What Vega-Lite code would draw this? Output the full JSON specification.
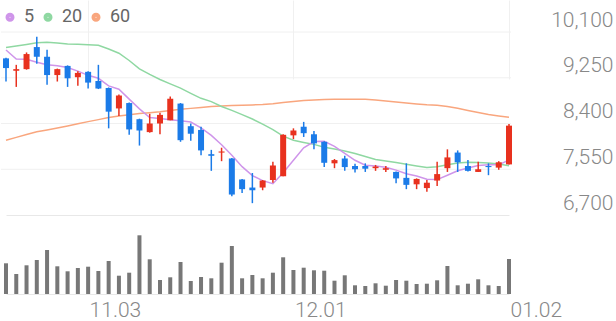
{
  "$schema": "https://vega.github.io/schema/vega-lite/v6.json",
  "width": 616,
  "height": 294,
  "padding": 0,
  "autosize": {"type": "pad"},
  "background": "white",
  "config": {"view": {"stroke": null}, "font": "Roboto"},
  "datasets": {
    "grid": [{"p": 10100}, {"p": 9250}, {"p": 8400}, {"p": 7550}]
  },
  "data": {"values": [
    {"d":"10.24","o":9610,"h":9620,"l":9180,"c":9430,"v":153500,"m5":9766,"m20":9812,"m60":8088},
    {"d":"10.25","o":9380,"h":9490,"l":9080,"c":9410,"v":100000,"m5":9598,"m20":9840,"m60":8142},
    {"d":"10.26","o":9410,"h":9720,"l":9400,"c":9690,"v":143500,"m5":9593,"m20":9868,"m60":8196},
    {"d":"10.27","o":9820,"h":10010,"l":9510,"c":9640,"v":170000,"m5":9537,"m20":9899,"m60":8246},
    {"d":"10.28","o":9640,"h":9770,"l":9120,"c":9300,"v":220000,"m5":9490,"m20":9909,"m60":8281},
    {"d":"10.31","o":9300,"h":9420,"l":9180,"c":9410,"v":138500,"m5":9472,"m20":9896,"m60":8318},
    {"d":"11.01","o":9470,"h":9480,"l":9080,"c":9240,"v":113500,"m5":9441,"m20":9877,"m60":8354},
    {"d":"11.02","o":9260,"h":9370,"l":9100,"c":9340,"v":130000,"m5":9374,"m20":9872,"m60":8394},
    {"d":"11.03","o":9360,"h":9370,"l":9050,"c":9160,"v":136500,"m5":9295,"m20":9864,"m60":8435},
    {"d":"11.04","o":9190,"h":9490,"l":9040,"c":9050,"v":115000,"m5":9240,"m20":9855,"m60":8472},
    {"d":"11.07","o":9060,"h":9070,"l":8310,"c":8620,"v":165000,"m5":9098,"m20":9784,"m60":8510},
    {"d":"11.08","o":8680,"h":8940,"l":8540,"c":8920,"v":91500,"m5":9036,"m20":9706,"m60":8538},
    {"d":"11.09","o":8780,"h":8790,"l":8190,"c":8290,"v":106500,"m5":8853,"m20":9571,"m60":8564},
    {"d":"11.10","o":8480,"h":8490,"l":7990,"c":8270,"v":293500,"m5":8671,"m20":9416,"m60":8584},
    {"d":"11.11","o":8240,"h":8580,"l":8230,"c":8400,"v":173500,"m5":8510,"m20":9312,"m60":8601},
    {"d":"11.14","o":8400,"h":8600,"l":8200,"c":8560,"v":70000,"m5":8492,"m20":9218,"m60":8617},
    {"d":"11.15","o":8460,"h":8900,"l":8460,"c":8860,"v":83500,"m5":8470,"m20":9136,"m60":8640},
    {"d":"11.16","o":8770,"h":8780,"l":8060,"c":8090,"v":160000,"m5":8450,"m20":9058,"m60":8664},
    {"d":"11.17","o":8350,"h":8400,"l":8080,"c":8210,"v":65000,"m5":8428,"m20":8961,"m60":8681},
    {"d":"11.18","o":8280,"h":8340,"l":7810,"c":7900,"v":85000,"m5":8318,"m20":8868,"m60":8697},
    {"d":"11.21","o":7830,"h":7910,"l":7520,"c":7800,"v":78500,"m5":8179,"m20":8807,"m60":8714},
    {"d":"11.22","o":7860,"h":7950,"l":7700,"c":7880,"v":156500,"m5":8004,"m20":8716,"m60":8727},
    {"d":"11.23","o":7750,"h":7760,"l":7050,"c":7080,"v":240000,"m5":7810,"m20":8643,"m60":8733},
    {"d":"11.24","o":7360,"h":7370,"l":7110,"c":7180,"v":78500,"m5":7598,"m20":8565,"m60":8738},
    {"d":"11.25","o":7210,"h":7480,"l":6920,"c":7160,"v":95000,"m5":7432,"m20":8484,"m60":8746},
    {"d":"11.28","o":7210,"h":7350,"l":7160,"c":7340,"v":78500,"m5":7339,"m20":8387,"m60":8753},
    {"d":"11.29","o":7350,"h":7690,"l":7300,"c":7620,"v":106500,"m5":7282,"m20":8287,"m60":8768},
    {"d":"11.30","o":7420,"h":8200,"l":7420,"c":8190,"v":183500,"m5":7486,"m20":8166,"m60":8788},
    {"d":"12.01","o":8180,"h":8310,"l":8110,"c":8270,"v":120000,"m5":7716,"m20":8090,"m60":8809},
    {"d":"12.02","o":8340,"h":8430,"l":8150,"c":8220,"v":131500,"m5":7948,"m20":8049,"m60":8827},
    {"d":"12.05","o":8200,"h":8260,"l":7920,"c":8030,"v":118500,"m5":8064,"m20":8012,"m60":8838},
    {"d":"12.06","o":8060,"h":8070,"l":7590,"c":7670,"v":116500,"m5":8069,"m20":7960,"m60":8846},
    {"d":"12.07","o":7660,"h":7740,"l":7570,"c":7720,"v":66500,"m5":7975,"m20":7926,"m60":8850},
    {"d":"12.08","o":7750,"h":7800,"l":7520,"c":7590,"v":93500,"m5":7846,"m20":7889,"m60":8850},
    {"d":"12.09","o":7610,"h":7650,"l":7490,"c":7550,"v":43500,"m5":7717,"m20":7843,"m60":8850},
    {"d":"12.12","o":7610,"h":7660,"l":7500,"c":7560,"v":40000,"m5":7624,"m20":7787,"m60":8850},
    {"d":"12.13","o":7570,"h":7630,"l":7520,"c":7600,"v":53500,"m5":7610,"m20":7733,"m60":8837},
    {"d":"12.14","o":7540,"h":7610,"l":7500,"c":7570,"v":41500,"m5":7586,"m20":7703,"m60":8820},
    {"d":"12.15","o":7500,"h":7510,"l":7290,"c":7380,"v":70000,"m5":7534,"m20":7674,"m60":8801},
    {"d":"12.16","o":7390,"h":7660,"l":7180,"c":7260,"v":66500,"m5":7468,"m20":7644,"m60":8783},
    {"d":"12.19","o":7270,"h":7380,"l":7180,"c":7370,"v":50000,"m5":7424,"m20":7612,"m60":8764},
    {"d":"12.20","o":7200,"h":7350,"l":7130,"c":7300,"v":51500,"m5":7363,"m20":7581,"m60":8749},
    {"d":"12.21","o":7340,"h":7690,"l":7240,"c":7460,"v":68500,"m5":7358,"m20":7597,"m60":8740},
    {"d":"12.22","o":7570,"h":7920,"l":7500,"c":7770,"v":140000,"m5":7438,"m20":7633,"m60":8716},
    {"d":"12.23","o":7860,"h":7900,"l":7500,"c":7680,"v":43500,"m5":7522,"m20":7666,"m60":8682},
    {"d":"12.26","o":7610,"h":7720,"l":7510,"c":7520,"v":51500,"m5":7572,"m20":7679,"m60":8643},
    {"d":"12.27","o":7500,"h":7690,"l":7500,"c":7550,"v":73500,"m5":7619,"m20":7674,"m60":8604},
    {"d":"12.28","o":7610,"h":7660,"l":7440,"c":7590,"v":43500,"m5":7635,"m20":7666,"m60":8567},
    {"d":"12.29","o":7580,"h":7700,"l":7540,"c":7680,"v":40000,"m5":7632,"m20":7646,"m60":8539},
    {"d":"01.02","o":7640,"h":8390,"l":7640,"c":8360,"v":175000,"m5":7722,"m20":7616,"m60":8515}
  ]},
  "encoding": {
    "x": {
      "field": "d",
      "type": "ordinal",
      "scale": {
        "type": "point",
        "padding": 0,
        "range": [5, 508],
        "domain": ["10.24","10.25","10.26","10.27","10.28","10.31","11.01","11.02","11.03","11.04","11.07","11.08","11.09","11.10","11.11","11.14","11.15","11.16","11.17","11.18","11.21","11.22","11.23","11.24","11.25","11.28","11.29","11.30","12.01","12.02","12.05","12.06","12.07","12.08","12.09","12.12","12.13","12.14","12.15","12.16","12.19","12.20","12.21","12.22","12.23","12.26","12.27","12.28","12.29","01.02"]
      },
      "axis": {
        "values": ["11.03", "12.01", "01.02"],
        "title": null,
        "domain": false,
        "ticks": false,
        "grid": true,
        "gridColor": "#f0f0f0",
        "gridWidth": 1,
        "labelAngle": 0,
        "labelAlign": "left",
        "labelBaseline": "alphabetic",
        "labelPadding": 22,
        "labelOffset": 1,
        "labelFontSize": 21,
        "labelFontWeight": 300,
        "labelColor": "#888888",
        "labelFont": "Roboto",
        "labelOverlap": false
      }
    }
  },
  "resolve": {"scale": {"y": "independent"}},
  "layer": [
    {
      "mark": {"type": "bar", "width": 4, "color": "#777777"},
      "encoding": {
        "y": {
          "field": "v",
          "type": "quantitative",
          "scale": {"domain": [0, 395000], "range": [294, 215], "nice": false, "zero": true},
          "axis": {
            "orient": "left",
            "values": [0, 395000],
            "grid": true,
            "gridColor": "#e8e8e8",
            "labels": false,
            "ticks": false,
            "domain": false,
            "title": null
          }
        }
      }
    },
    {
      "layer": [
        {
          "data": {"name": "grid"},
          "mark": {"type": "rule", "color": "#f0f0f0", "strokeWidth": 1, "xOffset": -5, "x2Offset": 2},
          "encoding": {
            "x": {"datum": "10.24", "type": "ordinal"},
            "x2": {"datum": "01.02"},
            "y": {
              "field": "p",
              "type": "quantitative",
              "scale": {"domain": [6700, 10100], "range": [215, 32], "nice": false, "zero": false},
              "axis": {
                "orient": "right",
                "values": [6700, 7550, 8400, 9250, 10100],
                "labelExpr": "format(datum.value, ',')",
                "grid": false,
                "ticks": false,
                "domain": false,
                "title": null,
                "labelAlign": "right",
                "labelBaseline": "alphabetic",
                "labelPadding": -4,
                "labelOffset": -6,
                "labelFontSize": 21,
                "labelFontWeight": 300,
                "labelColor": "#888888",
                "labelFont": "Roboto"
              }
            }
          }
        },
        {
          "mark": {"type": "line", "strokeWidth": 1.5},
          "encoding": {
            "y": {"field": "m60", "type": "quantitative"},
            "color": {
              "datum": "60",
              "type": "nominal",
              "scale": {"domain": ["5", "20", "60"], "range": ["#cf95ea", "#8fd8a2", "#f9a67e"]},
              "legend": {
                "orient": "none",
                "legendX": 0,
                "legendY": 8,
                "direction": "horizontal",
                "title": null,
                "symbolType": "circle",
                "symbolSize": 25,
                "symbolStrokeWidth": 4,
                "labelFontSize": 18,
                "labelColor": "#666666",
                "labelFont": "Roboto",
                "labelOffset": 5,
                "columnPadding": 2
              }
            }
          }
        },
        {
          "mark": {"type": "line", "strokeWidth": 1.5},
          "encoding": {
            "y": {"field": "m20", "type": "quantitative"},
            "color": {"datum": "20", "type": "nominal"}
          }
        },
        {
          "mark": {"type": "line", "strokeWidth": 1.5},
          "encoding": {
            "y": {"field": "m5", "type": "quantitative"},
            "color": {"datum": "5", "type": "nominal"}
          }
        },
        {
          "mark": {"type": "rule", "strokeWidth": 1.5},
          "encoding": {
            "y": {"field": "l", "type": "quantitative"},
            "y2": {"field": "h"},
            "color": {"condition": {"test": "datum.c > datum.o", "value": "#e8311e"}, "value": "#1b7be8"}
          }
        },
        {
          "mark": {"type": "bar", "width": 6},
          "encoding": {
            "y": {"field": "o", "type": "quantitative"},
            "y2": {"field": "c"},
            "color": {"condition": {"test": "datum.c > datum.o", "value": "#e8311e"}, "value": "#1b7be8"}
          }
        }
      ]
    }
  ]
}
